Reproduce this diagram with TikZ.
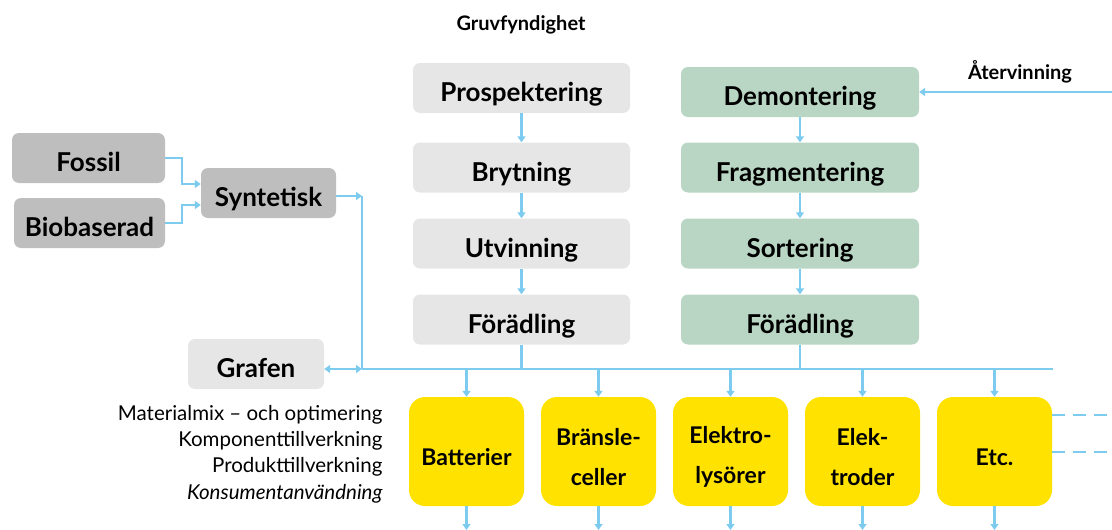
\documentclass[tikz,border=0pt]{standalone}
\usepackage{fontspec}
\setmainfont{Lato}
\usepackage{tikz}
\usetikzlibrary{arrows.meta}

\definecolor{flowblue}{HTML}{7DCBEF}
\definecolor{lightgray}{HTML}{E6E6E6}
\definecolor{darkgray}{HTML}{BEBEBE}
\definecolor{recgreen}{HTML}{B8D6C3}
\definecolor{prodyellow}{HTML}{FFE200}

\begin{document}
\begin{tikzpicture}[x=1pt,y=-1pt,
  box/.style={rounded corners=7pt, inner sep=0pt, minimum height=50pt,
    text height=27pt, text depth=0pt,
    font=\fontsize{26}{30}\selectfont\bfseries},
  minebox/.style={box, fill=lightgray, minimum width=217pt},
  recbox/.style={box, fill=recgreen, minimum width=238pt},
  srcbox/.style={box, fill=darkgray},
  prodbox/.style={rounded corners=16pt, fill=prodyellow, inner sep=0pt,
    minimum width=115pt, minimum height=109pt},
  prodtext/.style={align=center, yshift=-5.5pt,
    font=\fontsize{23}{40}\selectfont\bfseries},
  title/.style={font=\fontsize{20}{24}\selectfont\bfseries},
  flow/.style={draw=flowblue, line width=2.5pt, -{Triangle[length=6pt,width=8pt]}},
  line/.style={draw=flowblue, line width=2.5pt}]
  \useasboundingbox (0,0) rectangle (1112,530);

  % mining chain
  \node[title] (gruv) at (521,25) {Gruvfyndighet};
  \node[minebox] (prosp) at (521.5,88) {Prospektering};
  \node[minebox] (bryt) at (521.5,167.5) {Brytning};
  \node[minebox] (utv) at (521.5,243.5) {Utvinning};
  \node[minebox] (forg) at (521.5,319.5) {Förädling};
  \draw[flow] (prosp) -- (bryt);
  \draw[flow] (bryt) -- (utv);
  \draw[flow] (utv) -- (forg);

  % recycling chain
  \node[title] (ater) at (1020,72) {Återvinning};
  \node[recbox] (dem) at (800,92) {Demontering};
  \node[recbox] (frag) at (800,167.5) {Fragmentering};
  \node[recbox] (sort) at (800,243.5) {Sortering};
  \node[recbox] (forr) at (800,319.5) {Förädling};
  \coordinate (aterin) at (1112,92);
  \draw[flow] (aterin) -- (dem);
  \draw[flow] (dem) -- (frag);
  \draw[flow] (frag) -- (sort);
  \draw[flow] (sort) -- (forr);

  % synthetic sources
  \node[srcbox, minimum width=153pt] (fossil) at (88.5,158) {Fossil};
  \node[srcbox, minimum width=151pt] (bio) at (89.5,223) {Biobaserad};
  \node[srcbox, minimum width=135pt] (syn) at (268.5,193) {Syntetisk};
  \draw[flow] (fossil.east) -| (182,184) -- (syn.west |- 0,184);
  \draw[flow] (bio.east) -| (182,205) -- (syn.west |- 0,205);
  \coordinate (synj) at (362,196);
  \coordinate (busl) at (362,369);
  \coordinate (busr) at (1053,369);
  \draw[flow] (syn.east |- synj) -- (synj);
  \draw[line] (synj) -- (busl);

  % bus
  \node[box, fill=lightgray, minimum width=136pt] (grafen) at (256,364) {Grafen};
  \draw[draw=flowblue, line width=2.5pt, {Triangle[length=6pt,width=8pt]}-{Triangle[length=6pt,width=8pt]}]
    (grafen.east |- busl) -- (busl);
  \draw[line] (busl) -- (busr);
  \draw[line] (forg) -- (forg |- busl);
  \draw[line] (forr) -- (forr |- busl);

  % products
  \node[prodbox, label={[prodtext]center:Batterier}] (batt) at (466.5,451.5) {};
  \node[prodbox, label={[prodtext]center:{Bränsle-\\celler}}] (bran) at (598.5,451.5) {};
  \node[prodbox, label={[prodtext]center:{Elektro-\\lysörer}}] (elly) at (730.5,451.5) {};
  \node[prodbox, label={[prodtext]center:{Elek-\\troder}}] (eltr) at (862.5,451.5) {};
  \node[prodbox, label={[prodtext]center:Etc.}] (etc) at (994.5,451.5) {};
  \foreach \p in {batt,bran,elly,eltr,etc} {
    \draw[flow] (\p.north |- busl) -- (\p.north);
    \draw[flow] (\p.south) -- (\p.south |- 0,530);
  }
  \draw[line, dash pattern=on 13pt off 8pt] (etc.east |- 0,415) -- (1112,415);
  \draw[line, dash pattern=on 13pt off 8pt] (etc.east |- 0,452) -- (1112,452);

  % stages
  \node[anchor=east, align=right, font=\fontsize{20.5}{26.3}\selectfont] (stages) at (386,454)
    {Materialmix – och optimering\\Komponenttillverkning\\Produkttillverkning\\\itshape Konsumentanvändning};
\end{tikzpicture}
\end{document}
